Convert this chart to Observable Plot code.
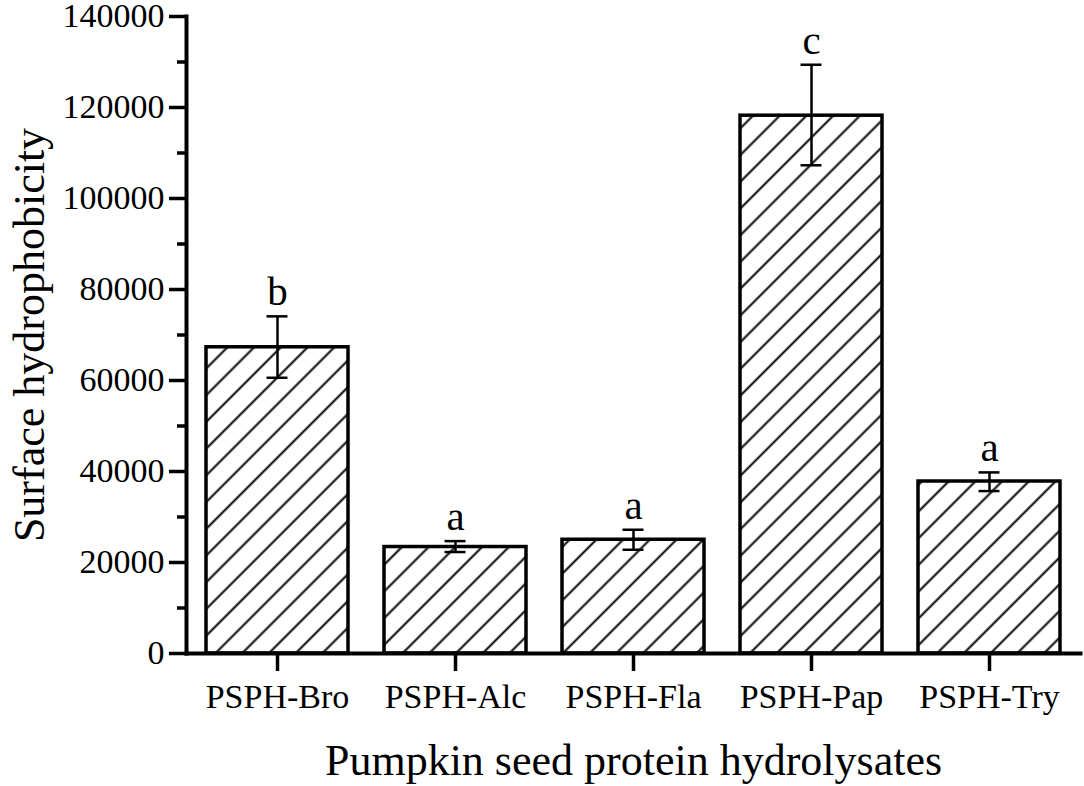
<!DOCTYPE html>
<html>
<head>
<meta charset="utf-8">
<script src="https://cdn.jsdelivr.net/npm/d3@7"></script>
<script src="https://cdn.jsdelivr.net/npm/@observablehq/plot@0.6"></script>
<style>
  html, body { margin: 0; padding: 0; background: #fff; }
  #chart svg { display: block; }
</style>
</head>
<body>
<div id="chart"></div>
<script>
const categories = ["PSPH-Bro", "PSPH-Alc", "PSPH-Fla", "PSPH-Pap", "PSPH-Try"];
const means = [67300, 23400, 25000, 118200, 37800];
const errLow = [60600, 22300, 22800, 107300, 35700];
const errHigh = [74100, 24700, 27200, 129400, 39800];
const letters = ["b", "a", "a", "c", "a"];
const majorTicks = [0, 20000, 40000, 60000, 80000, 100000, 120000, 140000];
const minorTicks = [10000, 30000, 50000, 70000, 90000, 110000, 130000];

const data = categories.map((c, i) => ({
  cat: c, mean: means[i], lo: errLow[i], hi: errHigh[i], letter: letters[i]
}));

const W = 1084, H = 786;
const bandInset = (178.8 * 0.8 - 22) / 2;

const chart = Plot.plot({
  width: W,
  height: H,
  marginLeft: 186,
  marginRight: 4,
  marginTop: 16,
  marginBottom: 133,
  style: { fontFamily: "'Liberation Serif', 'Times New Roman', serif", color: "#000", background: "#fff" },
  x: { domain: categories, paddingInner: 0.2, paddingOuter: 0.1, label: null },
  y: { domain: [0, 140000], label: null },
  marks: [
    Plot.barY(data, { x: "cat", y: "mean", fill: "url(#hatch)", stroke: "#000", strokeWidth: 3.5 }),
    Plot.ruleX(data, { x: "cat", y1: "lo", y2: "hi", stroke: "#000", strokeWidth: 2.5 }),
    Plot.tickY(data, { x: "cat", y: "lo", stroke: "#000", strokeWidth: 2.5, insetLeft: bandInset, insetRight: bandInset }),
    Plot.tickY(data, { x: "cat", y: "hi", stroke: "#000", strokeWidth: 2.5, insetLeft: bandInset, insetRight: bandInset }),
    Plot.text(data, { x: "cat", y: "hi", text: "letter", lineAnchor: "bottom", dy: -11, fontSize: 41, fill: "#000" }),
    Plot.axisY({ ticks: majorTicks, tickSize: 17, tickPadding: 5, strokeWidth: 3.5, fontSize: 34, tickFormat: d => String(d), label: null }),
    Plot.axisY({ ticks: minorTicks, tickSize: 9, strokeWidth: 3.5, tickFormat: null, label: null, text: null }),
    Plot.axisX({ tickSize: 18, tickPadding: 12, strokeWidth: 3.5, fontSize: 34, label: null }),
    Plot.frame({ anchor: "left", strokeWidth: 4, stroke: "#000" }),
    Plot.frame({ anchor: "bottom", strokeWidth: 4, stroke: "#000" }),
    Plot.text(["Pumpkin seed protein hydrolysates"], { frameAnchor: "bottom", dy: 121, fontSize: 44, fill: "#000", lineAnchor: "bottom" }),
    Plot.text(["Surface hydrophobicity"], { frameAnchor: "left", textAnchor: "middle", dx: -157, rotate: -90, fontSize: 44, fill: "#000", lineAnchor: "middle" })
  ]
});

// hatch pattern definition
const svgNS = "http://www.w3.org/2000/svg";
const defs = document.createElementNS(svgNS, "defs");
defs.innerHTML = '<pattern id="hatch" patternUnits="userSpaceOnUse" width="18.9" height="18.9" patternTransform="rotate(45)"><rect width="18.9" height="18.9" fill="#fff"/><line x1="9.45" y1="-1" x2="9.45" y2="19.9" stroke="#000" stroke-width="2"/></pattern>';
chart.insertBefore(defs, chart.firstChild);

document.getElementById("chart").appendChild(chart);
</script>
</body>
</html>
